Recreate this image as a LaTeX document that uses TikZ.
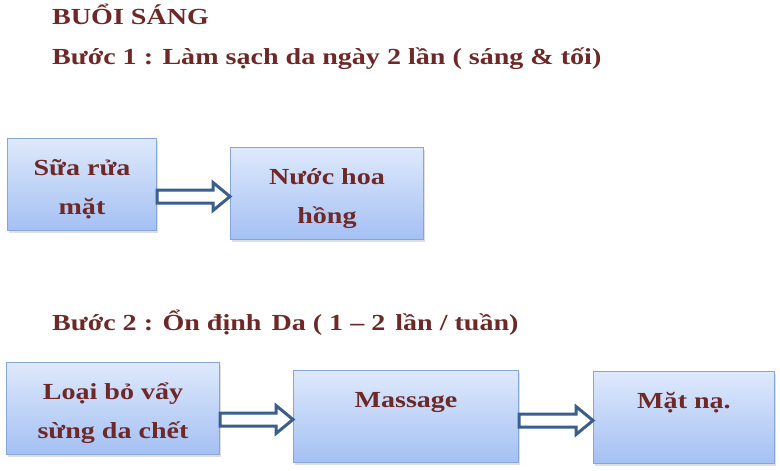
\documentclass[tikz,border=0pt]{standalone}
\usepackage{fontspec}
\setmainfont{Liberation Serif}[FakeStretch=1.22]
\usepackage{tikz}
\usetikzlibrary{calc, shadows, positioning}
\definecolor{stepText}{RGB}{110,40,40}
\definecolor{boxTop}{RGB}{222,233,252}
\definecolor{boxBottom}{RGB}{164,192,243}
\definecolor{boxLine}{RGB}{134,166,218}
\definecolor{arrowLine}{RGB}{58,94,142}

\newcommand{\hollowarrow}[2]{%
  \draw[hollow] let \p1=(#1.east), \p2=($(#2.west)+(0,3)$) in
    (\x1,\y2+6.5pt) -- (\x2-17pt,\y2+6.5pt) -- (\x2-17pt,\y2+14pt) -- (\x2,\y2)
    -- (\x2-17pt,\y2-14pt) -- (\x2-17pt,\y2-6.5pt) -- (\x1,\y2-6.5pt) -- cycle;}
\newcommand{\firstline}{\rule{0pt}{26pt}}

\begin{document}
\begin{tikzpicture}[x=1pt, y=-1pt,
    heading/.style={anchor=base west, inner sep=0pt, text=stepText,
      font=\fontsize{23}{28}\selectfont\bfseries},
    stepbox/.style={draw=boxLine, line width=1pt, top color=boxTop, bottom color=boxBottom,
      drop shadow={shadow xshift=1pt, shadow yshift=-2pt, opacity=0.25},
      minimum height=92pt, anchor=north west, align=center, text=stepText,
      font=\fontsize{23}{39}\selectfont\bfseries},
    oneline/.style={text height=16pt, text depth=34pt},
    hollow/.style={draw=arrowLine, fill=white, line width=3pt, line join=miter}]
    \useasboundingbox (0,0) rectangle (780,471);

    \node[heading] (title) at (52,24) {BUỔI SÁNG};
    \node[heading] (step1) at (52,64) {Bước 1 : Làm sạch da ngày 2 lần ( sáng \& tối)};
    \node[heading] (step2) at (52,330) {Bước 2 : Ổn định\kern3pt\ Da ( 1 – 2\kern3pt\ lần / tuần)};

    % buoc 1
    \node[stepbox, minimum width=149pt] (sua) at (7,138) {\firstline Sữa rửa\\mặt};
    \node[stepbox, minimum width=193pt] (nuoc) at (230,147) {\firstline Nước hoa\\hồng};
    \hollowarrow{sua}{nuoc}

    % buoc 2
    \node[stepbox, minimum width=213pt] (loai) at (6,362) {\firstline Loại bỏ vẩy\\sừng da chết};
    \node[stepbox, oneline, minimum width=225pt] (massage) at (293,370) {Massage};
    \node[stepbox, oneline, minimum width=181pt] (matna) at (593,371) {Mặt nạ.};
    \hollowarrow{loai}{massage}
    \hollowarrow{massage}{matna}
\end{tikzpicture}
\end{document}
